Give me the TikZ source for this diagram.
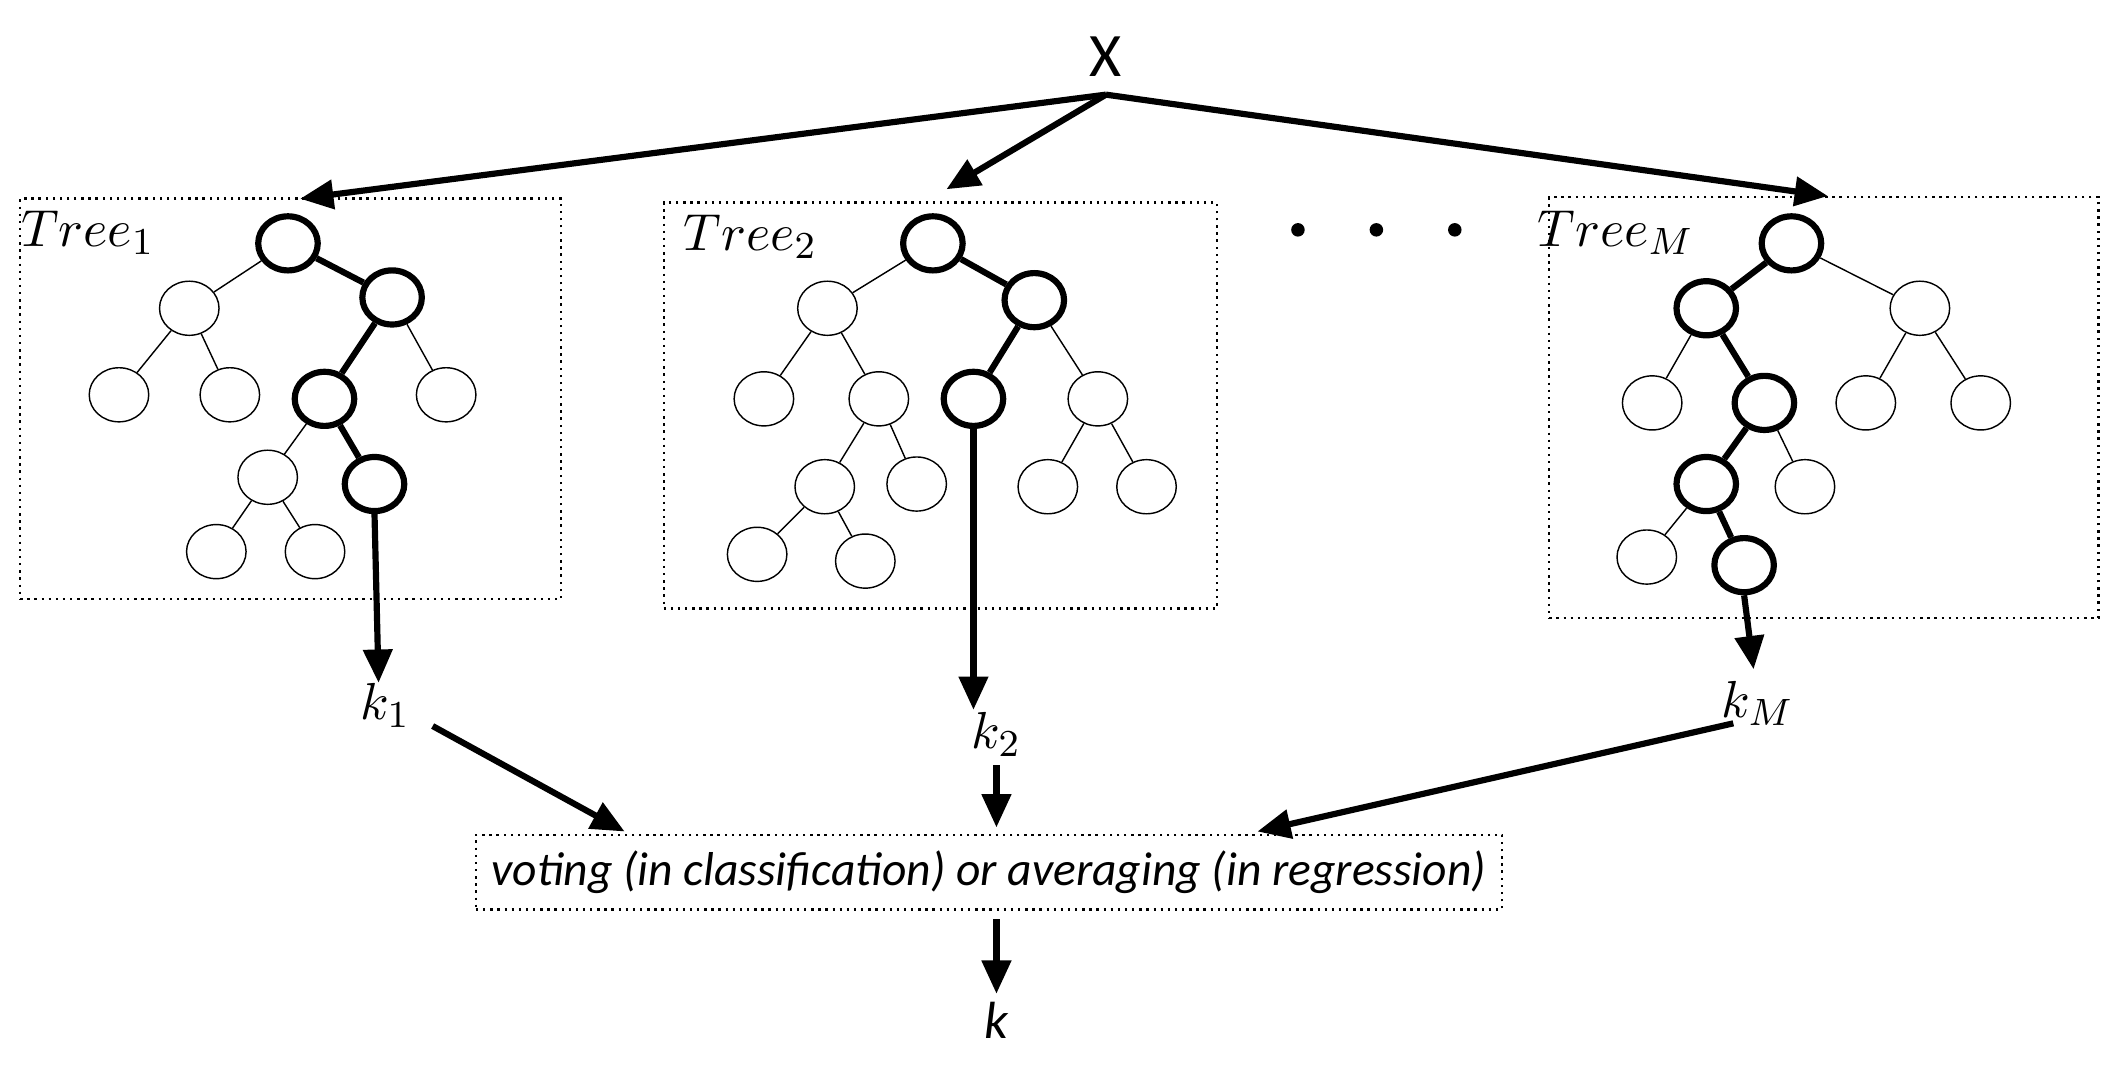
\documentclass[tikz,border=0pt]{standalone}
\usepackage{fontspec}
\setmainfont{Carlito}
\usetikzlibrary{arrows.meta,shapes.geometric}
\begin{document}
\begin{tikzpicture}[x=0.01cm,y=-0.01cm,
  nd/.style={draw,ellipse,minimum width=0.44cm,minimum height=0.40cm,inner sep=0pt,line width=0.3pt},
  bn/.style={nd,line width=1.3pt},
  te/.style={line width=0.3pt},
  be/.style={line width=1.3pt},
  arr/.style={line width=1.3pt,-{Triangle[length=7pt,width=6pt]}},
  box/.style={draw,densely dotted,line width=0.5pt},
  lab/.style={font=\fontsize{11}{12}\selectfont}]
\useasboundingbox (0,0) rectangle (1568,788);
\node[font=\fontsize{13}{14}\selectfont] (X) at (818,42) {X};
\coordinate (xs) at (818,70);
\node[box,minimum width=4cm,minimum height=2.96cm] (B1) at (215,295) {};
\node[box,minimum width=4.09cm,minimum height=3.0cm] (B2) at (695.5,300) {};
\node[box,minimum width=4.06cm,minimum height=3.11cm] (B3) at (1349,301.5) {};
\coordinate (t1) at (222,147);
\coordinate (t2) at (700,140);
\coordinate (t3) at (1352,145);
\draw[arr] (xs) -- (t1);
\draw[arr] (xs) -- (t2);
\draw[arr] (xs) -- (t3);
\foreach \x [count=\i] in {960,1018,1076} \fill (\x,170) circle (5);
\node[lab] (L1) at (65,172) {$Tree_1$};
\node[lab] (L2) at (555,175) {$Tree_2$};
\node[lab] (L3) at (1195,172) {$Tree_M$};
% tree 1
\node[bn] (ar) at (213,180) {};
\node[nd] (aa) at (140,228) {};
\node[bn] (ab) at (290,220) {};
\node[nd] (ac) at (88,292) {};
\node[nd] (ad) at (170,292) {};
\node[bn] (ae) at (240,295) {};
\node[nd] (af) at (330,292) {};
\node[nd] (ag) at (198,353) {};
\node[bn] (ah) at (277,358) {};
\node[nd] (ai) at (160,408) {};
\node[nd] (aj) at (233,408) {};
\draw[te] (ar)--(aa) (aa)--(ac) (aa)--(ad) (ab)--(af) (ae)--(ag) (ag)--(ai) (ag)--(aj);
\draw[be] (ar)--(ab) (ab)--(ae) (ae)--(ah);
% tree 2
\node[bn] (br) at (690,180) {};
\node[nd] (ba) at (612,228) {};
\node[bn] (bb) at (765,222) {};
\node[nd] (bc) at (565,295) {};
\node[nd] (bd) at (650,295) {};
\node[bn] (be) at (720,295) {};
\node[nd] (bf) at (812,295) {};
\node[nd] (bg) at (610,360) {};
\node[nd] (bh) at (678,358) {};
\node[nd] (bi) at (560,410) {};
\node[nd] (bj) at (640,415) {};
\node[nd] (bl) at (775,360) {};
\node[nd] (bm) at (848,360) {};
\draw[te] (br)--(ba) (ba)--(bc) (ba)--(bd) (bb)--(bf) (bd)--(bg) (bd)--(bh) (bg)--(bi) (bg)--(bj) (bf)--(bl) (bf)--(bm);
\draw[be] (br)--(bb) (bb)--(be);
% tree M
\node[bn] (cr) at (1325,180) {};
\node[bn] (ca) at (1262,228) {};
\node[nd] (cb) at (1420,228) {};
\node[nd] (cc) at (1222,298) {};
\node[bn] (cd) at (1305,298) {};
\node[nd] (ce) at (1380,298) {};
\node[nd] (cf) at (1465,298) {};
\node[bn] (cg) at (1262,358) {};
\node[nd] (ch) at (1335,360) {};
\node[nd] (ci) at (1218,412) {};
\node[bn] (cj) at (1290,418) {};
\draw[te] (cr)--(cb) (ca)--(cc) (cb)--(ce) (cb)--(cf) (cd)--(ch) (cg)--(ci);
\draw[be] (cr)--(ca) (ca)--(cd) (cd)--(cg) (cg)--(cj);
% outputs
\node[lab] (k1) at (285,522) {$k_1$};
\node[lab] (k2) at (737,543) {$k_2$};
\node[lab] (kM) at (1300,520) {$k_M$};
\draw[arr] (ah.south) -- (280,505);
\draw[arr] (be.south) -- (720,525);
\draw[arr] (cj.south) -- (1297,495);
\node[box,minimum width=6.27cm,minimum height=0.54cm,font=\fontsize{10}{11}\selectfont\itshape] (V) at (731.5,645) {voting (in classification) or averaging (in regression)};
\coordinate (v1) at (462,615);
\coordinate (v2) at (930,615);
\coordinate (v3) at (737,612);
\draw[arr] (320,537) -- (v1);
\draw[arr] (1282,535) -- (v2);
\draw[arr] (737,566) -- (v3);
\node[lab,font=\fontsize{11}{12}\selectfont\itshape] (k) at (737,755) {k};
\draw[arr] (737,680) -- (737,735);
\end{tikzpicture}
\end{document}
